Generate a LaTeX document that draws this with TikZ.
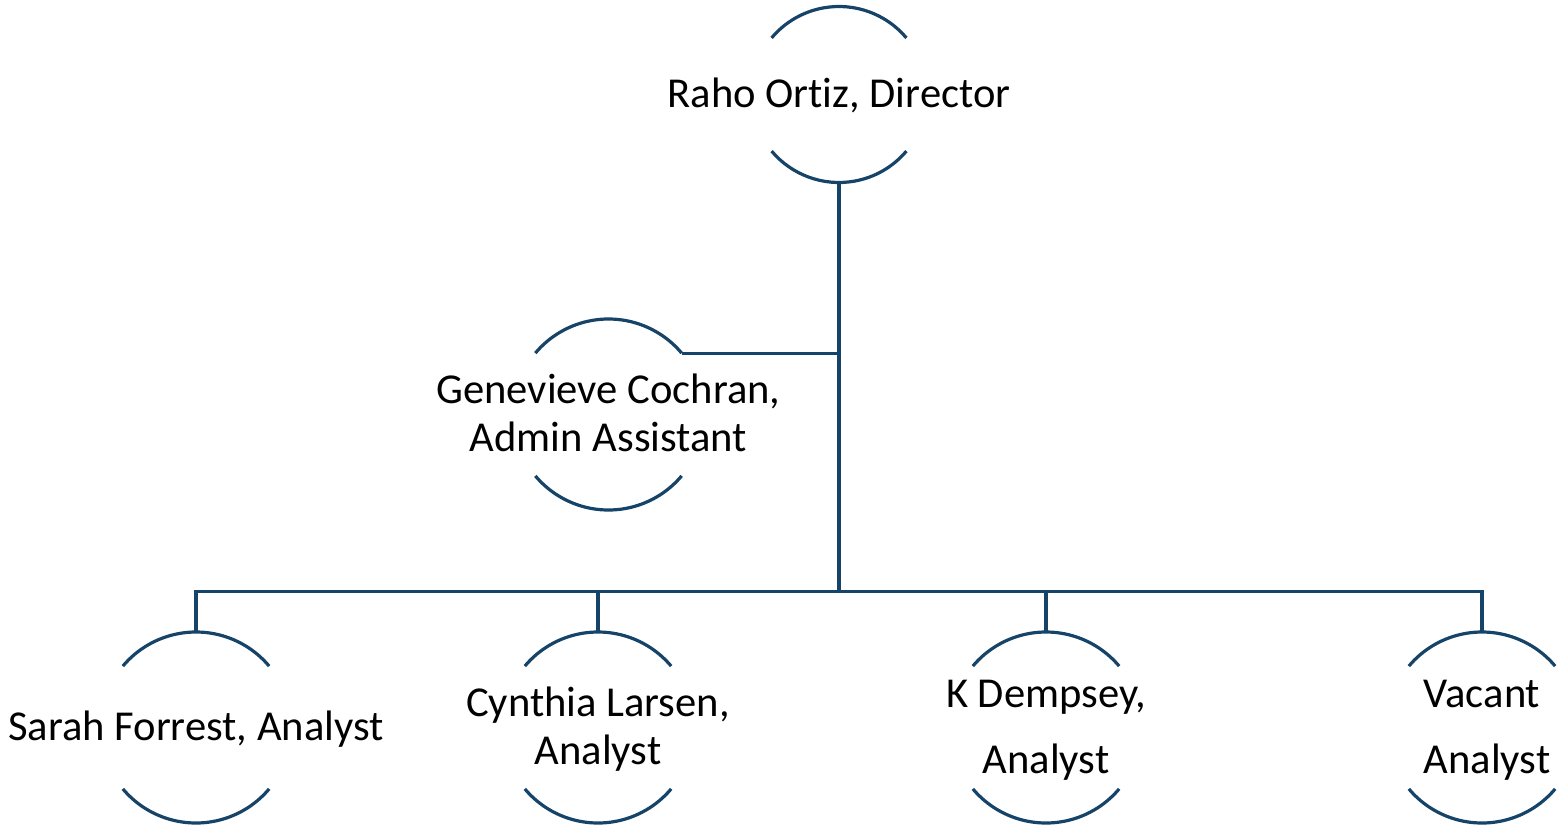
\documentclass[tikz,border=0pt]{standalone}
\usepackage{fontspec}
\setmainfont{Carlito}[Ligatures=NoCommon]
\definecolor{navy}{RGB}{22,67,104}
\newcommand{\pname}[1]{\makebox[0pt]{\raisebox{-1.8pt}[\height][\depth]{\begin{tabular}{@{}c@{}}#1\end{tabular}}}}
\begin{document}
\begin{tikzpicture}[x=0.5pt,y=-0.5pt,
  person/.style={circle, inner sep=0pt, outer sep=0pt, minimum size=95.5pt,
    font=\fontsize{21.3}{23.7}\selectfont},
  link/.style={draw=navy, line width=1.6pt}]
\useasboundingbox (0,0) rectangle (1563,830);
\node[person, minimum size=88pt] (dir) at (839,94.5) {\pname{Raho Ortiz, Director}};
\node[person] (gen) at (608.5,414.5) {\pname{Genevieve Cochran,\\Admin Assistant}};
\node[person] (sf) at (196,727.5) {\pname{Sarah Forrest, Analyst}};
\node[person] (cl) at (598,727.5) {\pname{Cynthia Larsen,\\Analyst}};
\node[person] (kd) at (1046,727.5) {\pname{K Dempsey,\\[9pt]Analyst}};
\node[person] (va) at (1482,727.5) {\pname{Vacant\\[9pt]\hspace{5pt}Analyst}};
\foreach \n/\r in {dir/44pt, gen/47.75pt, sf/47.75pt, cl/47.75pt, kd/47.75pt, va/47.75pt}{
  \draw[link] (\n.40) arc[start angle=40, end angle=140, radius=\r];
  \draw[link] (\n.220) arc[start angle=220, end angle=320, radius=\r];
}
\coordinate (bus) at (839,591.5);
\draw[link] (dir.south) -- (bus);
\draw[link] (gen.40) -- (gen.40 -| dir.south);
\draw[link] (bus) -| (sf.north);
\draw[link] (bus) -| (cl.north);
\draw[link] (bus) -| (kd.north);
\draw[link] (bus) -| (va.north);
\end{tikzpicture}
\end{document}
